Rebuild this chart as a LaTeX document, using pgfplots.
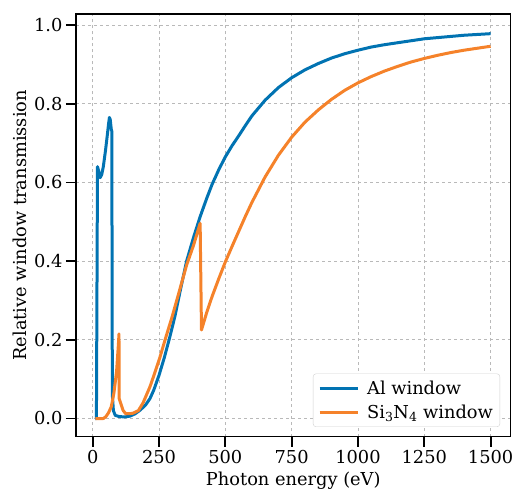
\documentclass[border=0pt]{standalone}
\usepackage{fontspec}
\setmainfont{DejaVu Serif}
\usepackage{pgfplots}
\pgfplotsset{compat=1.18}
\definecolor{cblue}{HTML}{0173B2}
\definecolor{corange}{HTML}{F5822A}

\begin{document}
\begin{tikzpicture}
\begin{axis}[
    scale only axis,
    width=434.5pt, height=422.5pt,
    xmin=-63, xmax=1575,
    ymin=-0.0457, ymax=1.028,
    xtick={0,250,500,750,1000,1250,1500},
    ytick={0,0.2,0.4,0.6,0.8,1.0},
    /pgf/number format/assume math mode=true,
    /pgf/number format/1000 sep={},
    yticklabel style={/pgf/number format/fixed, /pgf/number format/precision=1, /pgf/number format/fixed zerofill},
    tick label style={font=\fontsize{17.8}{21}\selectfont},
    label style={font=\fontsize{17.8}{21}\selectfont},
    xlabel={Photon energy (eV)},
    ylabel={Relative window transmission},
    xlabel style={at={(axis description cs:0.5,-0.1163)}, anchor=base},
    ylabel style={at={(axis description cs:-0.1139,0.5)}, anchor=base, rotate=0},
    tick align=outside,
    major tick length=10pt,
    every tick/.style={black, line width=1.8pt},
    xtick pos=bottom, ytick pos=left,
    axis line style={line width=1.3pt},
    grid=major,
    major grid style={gray!55, dashed, line width=0.8pt},
    legend style={font=\fontsize{17.8}{21}\selectfont, draw=black!18, rounded corners=3pt,
        at={(0.976,0.0225)}, anchor=south east, inner xsep=5pt, inner ysep=5pt,
        row sep=5pt},
    legend cell align=left,
    legend image code/.code={\draw[#1, line width=3pt] (0pt,0pt) -- (38pt,0pt);
        \path (44pt,0pt);},
]
\addplot[cblue, line width=3pt, line join=round] coordinates {
(10,0) (14,0) (18,0.64) (22,0.63) (28,0.612) (34,0.62) (40,0.64) (48,0.68)
(55,0.72) (60,0.75) (63,0.765) (66,0.76) (70,0.735) (72,0.73) (74,0.06)
(78,0.02) (85,0.008) (100,0.005) (120,0.004) (140,0.006) (160,0.012)
(180,0.022) (200,0.035) (216,0.051) (230,0.072) (250,0.11) (270,0.155)
(291,0.208) (310,0.26) (330,0.325) (354,0.40) (380,0.46) (405,0.513)
(430,0.56) (450,0.595) (475,0.632) (500,0.665) (525,0.693) (550,0.718)
(575,0.744) (600,0.769) (650,0.809) (700,0.841) (750,0.866) (800,0.886)
(850,0.902) (900,0.916) (950,0.927) (1000,0.936) (1050,0.944) (1100,0.950)
(1150,0.955) (1200,0.960) (1250,0.965) (1300,0.968) (1350,0.971)
(1400,0.974) (1450,0.976) (1500,0.978)
};
\addlegendentry{Al window}
\addplot[corange, line width=3pt, line join=round] coordinates {
(10,0) (40,0) (50,0.005) (60,0.015) (70,0.03) (80,0.065) (90,0.12)
(97,0.19) (99,0.215) (100,0.05) (105,0.04) (110,0.03) (115,0.02)
(125,0.012) (150,0.013) (172,0.02) (190,0.04) (216,0.081) (235,0.118)
(254,0.157) (275,0.205) (300,0.26) (325,0.32) (354,0.39) (380,0.44)
(405,0.496) (410,0.225) (430,0.27) (450,0.31) (475,0.355) (500,0.398)
(525,0.437) (550,0.475) (575,0.513) (600,0.549) (650,0.614) (700,0.669)
(750,0.715) (800,0.753) (850,0.784) (900,0.811) (950,0.834)
(1000,0.853) (1050,0.869) (1100,0.883) (1150,0.895) (1200,0.906)
(1250,0.915) (1300,0.923) (1350,0.930) (1400,0.936) (1450,0.941)
(1500,0.946)
};
\addlegendentry{Si\textsubscript{3}N\textsubscript{4} window}
\end{axis}
\pgfresetboundingbox
\path ([xshift=-76pt,yshift=-53.5pt]current axis.south west)
  rectangle ([xshift=2.5pt,yshift=14pt]current axis.north east);
\end{tikzpicture}
\end{document}
